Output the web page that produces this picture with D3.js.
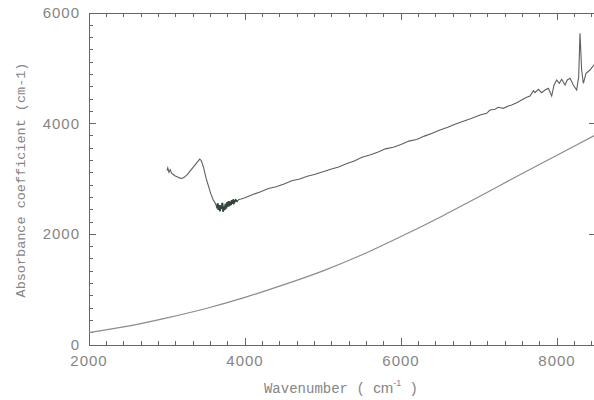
<!DOCTYPE html>
<html>
<head>
<meta charset="utf-8">
<script src="https://cdn.jsdelivr.net/npm/d3@7"></script>
<style>
  body { margin: 0; background: #fff; }
</style>
</head>
<body>
<div id="chart"></div>
<script>
// tick labels
var xMajorTicks = [2000, 4000, 6000, 8000];
var yMajorTicks = [0, 2000, 4000, 6000];
var minorPerMajor = 9;

// lower (smooth) curve
var lowerWn  = [2000, 2500, 3000, 3500, 4000, 4500, 5000, 5500, 6000, 6500, 7000, 7500, 8000, 8500];
var lowerVal = [222, 340, 490, 660, 860, 1090, 1340, 1630, 1960, 2310, 2680, 3060, 3430, 3800];

// measured spectrum
var upperWn = [3000, 3010, 3025, 3040, 3060, 3080, 3100, 3130, 3160, 3190, 3220, 3260, 3300, 3340, 3380, 3420,
  3440, 3470, 3500, 3530, 3560, 3590, 3620, 3640, 3650, 3660, 3670, 3680, 3690, 3700, 3710, 3720, 3730, 3740,
  3750, 3760, 3770, 3780, 3790, 3800, 3810, 3820, 3830, 3840, 3850, 3860, 3880, 3900, 3920, 3950,
  4000, 4100, 4200, 4300, 4400, 4500, 4600, 4700, 4800, 4900, 5000, 5100, 5200, 5300, 5400, 5500, 5600, 5700,
  5800, 5900, 6000, 6100, 6200, 6300, 6400, 6500, 6600, 6700, 6800, 6900,
  7013, 7098, 7141, 7205, 7248, 7312, 7376, 7419, 7483, 7547, 7611, 7654, 7697, 7718, 7761, 7803, 7846, 7889,
  7932, 7962, 7996, 8030, 8060, 8103, 8132, 8167, 8209, 8252, 8278, 8295, 8316, 8338, 8372, 8423, 8474, 8500];
var upperVal = [3150, 3200, 3120, 3170, 3100, 3080, 3060, 3040, 3020, 3010, 3030, 3080, 3150, 3220, 3290, 3360,
  3330, 3200, 3020, 2880, 2740, 2630, 2560, 2480, 2560, 2440, 2530, 2420, 2520, 2460, 2570, 2410, 2500, 2440,
  2550, 2470, 2580, 2500, 2600, 2510, 2590, 2530, 2620, 2550, 2630, 2570, 2620, 2590, 2630, 2640,
  2660, 2720, 2770, 2830, 2860, 2910, 2970, 3000, 3050, 3085, 3130, 3175, 3215, 3275, 3325, 3395, 3435, 3485,
  3545, 3575, 3625, 3685, 3715, 3775, 3825, 3885, 3935, 3995, 4045, 4095,
  4157, 4187, 4247, 4259, 4296, 4277, 4320, 4338, 4380, 4428, 4476, 4500, 4597, 4560, 4621, 4560, 4609, 4639,
  4500, 4699, 4790, 4730, 4802, 4699, 4790, 4820, 4699, 4609, 4850, 5634, 4970, 4730, 4911, 4970, 5061, 5080];

var width = 594, height = 400;
var svg = d3.select('#chart').append('svg')
    .attr('width', width)
    .attr('height', height);

var x = d3.scaleLinear().domain([2000, 8500]).range([89, 596]);
var y = d3.scaleLinear().domain([0, 6000]).range([345, 13]);

var axisColor = '#666';
var textColor = '#858585';

var step = 2000 / minorPerMajor;
var xAll = d3.range(x.domain()[0], x.domain()[1] + 1, step);
var yAll = d3.range(y.domain()[0], y.domain()[1] + 1, step);
function isMajor(v) { return Math.abs(v / 2000 - Math.round(v / 2000)) < 1e-6; }

var frame = svg.append('g')
    .attr('stroke', axisColor)
    .attr('stroke-width', 1)
    .attr('shape-rendering', 'crispEdges');

// frame lines
frame.append('line').attr('x1', x(2000)).attr('x2', x(8500)).attr('y1', y(0)).attr('y2', y(0));
frame.append('line').attr('x1', x(2000)).attr('x2', x(8500)).attr('y1', y(6000)).attr('y2', y(6000));
frame.append('line').attr('x1', x(2000)).attr('x2', x(2000)).attr('y1', y(0)).attr('y2', y(6000));

// x ticks, bottom and top
frame.selectAll('line.xb').data(xAll).enter().append('line')
    .attr('x1', function (d) { return x(d); }).attr('x2', function (d) { return x(d); })
    .attr('y1', y(0)).attr('y2', function (d) { return y(0) - (isMajor(d) ? 7 : 4); });
frame.selectAll('line.xt').data(xAll).enter().append('line')
    .attr('x1', function (d) { return x(d); }).attr('x2', function (d) { return x(d); })
    .attr('y1', y(6000)).attr('y2', function (d) { return y(6000) + (isMajor(d) ? 7 : 4); });

// y ticks, left and right
frame.selectAll('line.yl').data(yAll).enter().append('line')
    .attr('y1', function (d) { return y(d); }).attr('y2', function (d) { return y(d); })
    .attr('x1', x(2000)).attr('x2', function (d) { return x(2000) + (isMajor(d) ? 7 : 4); });
frame.selectAll('line.yr').data(yMajorTicks).enter().append('line')
    .attr('y1', function (d) { return y(d); }).attr('y2', function (d) { return y(d); })
    .attr('x1', x(8500)).attr('x2', x(8500) - 7);

// tick labels
svg.selectAll('text.xl').data(xMajorTicks).enter().append('text')
    .attr('x', function (d) { return x(d); })
    .attr('y', y(0) + 21)
    .attr('text-anchor', 'middle')
    .attr('fill', textColor)
    .style('font-family', '"Liberation Sans", Arial, sans-serif')
    .style('font-size', '15px')
    .style('letter-spacing', '1px')
    .text(function (d) { return d; });
svg.selectAll('text.yl').data(yMajorTicks).enter().append('text')
    .attr('x', x(2000) - 9)
    .attr('y', function (d) { return y(d) + 5; })
    .attr('text-anchor', 'end')
    .attr('fill', textColor)
    .style('font-family', '"Liberation Sans", Arial, sans-serif')
    .style('font-size', '15px')
    .style('letter-spacing', '1px')
    .text(function (d) { return d; });

// curves
var lowerData = lowerWn.map(function (w, i) { return [w, lowerVal[i]]; });
var upperData = upperWn.map(function (w, i) { return [w, upperVal[i]]; });

var line = d3.line().x(function (d) { return x(d[0]); }).y(function (d) { return y(d[1]); });

svg.append('path')
    .datum(lowerData)
    .attr('fill', 'none')
    .attr('stroke', '#8c8c8c')
    .attr('stroke-width', 1.2)
    .attr('d', d3.line().x(function (d) { return x(d[0]); }).y(function (d) { return y(d[1]); }).curve(d3.curveMonotoneX));

svg.append('path')
    .datum(upperData)
    .attr('fill', 'none')
    .attr('stroke', '#5e5e5e')
    .attr('stroke-width', 1.1)
    .attr('d', line);

// noisy region drawn darker
svg.append('path')
    .datum(upperData.filter(function (d) { return d[0] >= 3630 && d[0] <= 3900; }))
    .attr('fill', 'none')
    .attr('stroke', '#34453a')
    .attr('stroke-width', 1.8)
    .attr('d', line);

// axis titles
svg.append('text')
    .attr('transform', 'translate(21,180) rotate(-90)')
    .attr('text-anchor', 'middle')
    .attr('dominant-baseline', 'middle')
    .attr('fill', textColor)
    .style('font-family', '"Liberation Mono", "DejaVu Sans Mono", monospace')
    .style('font-size', '13.5px')
    .text('Absorbance coefficient (cm-1)');

var xt = svg.append('text')
    .attr('x', 341)
    .attr('y', 393)
    .attr('text-anchor', 'middle')
    .attr('fill', textColor)
    .style('font-size', '14px');
xt.append('tspan').style('font-family', '"Liberation Mono", monospace').text('Wavenumber ( ');
xt.append('tspan').style('font-family', '"Liberation Sans", Arial, sans-serif').style('font-size', '15px').text('cm');
xt.append('tspan').style('font-family', '"Liberation Sans", Arial, sans-serif').style('font-size', '9px').attr('dy', -7).text('-1');
xt.append('tspan').style('font-family', '"Liberation Mono", monospace').attr('dy', 7).text(' )');
</script>
</body>
</html>
